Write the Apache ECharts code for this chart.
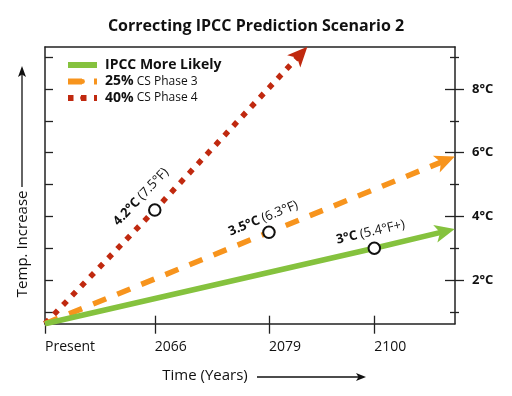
<!DOCTYPE html>
<html>
<head>
<meta charset="utf-8">
<script src="https://cdn.jsdelivr.net/npm/echarts@6/dist/echarts.min.js"></script>
<style>html,body{margin:0;padding:0;background:#fff;}#c{width:512px;height:396px;}</style>
</head>
<body>
<div id="c"></div>
<script>
// ---- data ----
const titleText = 'Correcting IPCC Prediction Scenario 2';
const categories = ['Present', '2066', '2079', '2100'];
const categoryPos = [0, 1, 2.04, 3];
const tempTicks = [1, 2, 3, 4, 5, 6, 7, 8, 9];
const tempLabelTicks = [2, 4, 6, 8];
const tempMinorTicks = [1, 3, 5, 7, 9];
const legendBold = ['IPCC More Likely', '25%', '40%'];
const legendRest = ['', 'CS Phase 3', 'CS Phase 4'];
const ipccLine = [[0, 0.63], [3, 3.0], [3.644, 3.53]];
const phase3Line = [[0, 0.63], [2.04, 3.5], [3.649, 5.76]];
const phase4Line = [[0, 0.63], [1, 4.2], [2.328, 9.10]];
const milestoneX = [1, 2.04, 3];
const milestoneTemp = [4.2, 3.5, 3.0];
const milestoneC = ['4.2°C', '3.5°C', '3°C'];
const milestoneF = ['(7.5°F)', '(6.3°F)', '(5.4°F+)'];
const xName = 'Time (Years)';
const yName = 'Temp. Increase';

// ---- styles ----
const FONT = 'Open Sans';
const colors = ['#85c23e', '#f7941d', '#c0290f'];
const dashTypes = ['solid', [14, 12], [5.5, 7.5]];
const axisColor = '#222';
const yMin = 0.63, yMax = 9.32, xMin = 0, xMax = 3.735;
const labelRot = [46.5, 22, 13];
const labelDist = [19, 15, 16.5];
const arrowW = 13.5, arrowH = 20;

const seriesNames = legendBold.map((b, i) => legendRest[i] ? b + ' ' + legendRest[i] : b);
const lines = [ipccLine, phase3Line, phase4Line];

const tickStyle = { color: axisColor, width: 1.3 };
const baseY = { type: 'value', min: yMin, max: yMax, splitLine: { show: false } };
const baseX = { type: 'value', min: xMin, max: xMax, splitLine: { show: false } };
function axLine(show) {
  return { show: show, onZero: false, lineStyle: { color: axisColor, width: 1.5 } };
}

const lineSeries = lines.map((d, i) => ({
  type: 'line',
  name: seriesNames[i],
  data: d,
  symbol: 'none',
  z: 5 - i,
  color: colors[i],
  lineStyle: { width: 5.5, type: dashTypes[i], color: colors[i], cap: 'butt' },
  animation: false
}));

const scatterSeries = {
  type: 'scatter',
  name: 'milestones',
  z: 10,
  symbol: 'circle',
  symbolSize: 11.5,
  itemStyle: { color: '#fff', borderColor: '#111', borderWidth: 2, opacity: 1 },
  animation: false,
  silent: true,
  label: {
    show: true,
    position: 'inside',
    align: 'center',
    verticalAlign: 'middle',
    formatter: p => '{b|' + milestoneC[p.dataIndex] + '} {n|' + milestoneF[p.dataIndex] + '}',
    rich: {
      b: { fontFamily: FONT, fontWeight: 'bold', fontSize: 13, color: '#111' },
      n: { fontFamily: FONT, fontSize: 13, color: '#111' }
    }
  },
  data: milestoneX.map((x, i) => ({
    value: [x, milestoneTemp[i]],
    label: { rotate: labelRot[i], offset: [0, -labelDist[i]] }
  }))
};

const option = {
  animation: false,
  textStyle: { fontFamily: FONT },
  title: {
    text: titleText,
    left: 'center',
    top: 13,
    textStyle: { fontFamily: FONT, fontWeight: 'bold', fontSize: 16, color: '#111' }
  },
  legend: {
    orient: 'vertical',
    left: 65,
    top: 58,
    padding: 0,
    itemGap: 2.5,
    itemWidth: 29,
    itemHeight: 6,
    selectedMode: false,
    data: seriesNames,
    lineStyle: { width: 6 },
    formatter: name => {
      const i = seriesNames.indexOf(name);
      return legendRest[i] ? '{b|' + legendBold[i] + '} {n|' + legendRest[i] + '}' : '{b|' + legendBold[i] + '}';
    },
    textStyle: {
      padding: [0, 0, 0, 3],
      rich: {
        b: { fontFamily: FONT, fontWeight: 'bold', fontSize: 14, color: '#111', lineHeight: 18 },
        n: { fontFamily: FONT, fontSize: 12, color: '#111', lineHeight: 18 }
      }
    }
  },
  grid: { left: 45, right: 57, top: 47, bottom: 72.3 },
  xAxis: [
    Object.assign({}, baseX, {
      position: 'bottom',
      axisLine: axLine(true),
      axisTick: { show: true, customValues: categoryPos, length: 10, inside: false, lineStyle: tickStyle },
      axisLabel: {
        show: true, customValues: categoryPos, align: 'left', margin: 16,
        fontFamily: FONT, fontSize: 14, color: '#111',
        formatter: v => categories[categoryPos.indexOf(v)]
      },
      name: xName,
      nameLocation: 'middle',
      nameGap: 45,
      nameTextStyle: { fontFamily: FONT, fontSize: 15, color: '#111', padding: [0, 90, 0, 0] }
    }),
    Object.assign({}, baseX, {
      position: 'bottom',
      axisLine: axLine(false),
      axisTick: { show: true, customValues: categoryPos.slice(1), length: 8, inside: true, lineStyle: tickStyle },
      axisLabel: { show: false }
    }),
    Object.assign({}, baseX, {
      position: 'top',
      axisLine: axLine(true),
      axisTick: { show: false },
      axisLabel: { show: false }
    })
  ],
  yAxis: [
    Object.assign({}, baseY, {
      position: 'left',
      axisLine: axLine(true),
      axisTick: { show: true, customValues: tempTicks, length: 8, inside: true, lineStyle: tickStyle },
      axisLabel: { show: false },
      name: yName,
      nameLocation: 'middle',
      nameRotate: 90,
      nameGap: 15,
      nameTextStyle: { fontFamily: FONT, fontSize: 15, color: '#111', padding: [0, 117, 0, 0] }
    }),
    Object.assign({}, baseY, {
      position: 'right',
      axisLine: axLine(true),
      axisTick: { show: true, customValues: tempLabelTicks, length: 9, inside: false, lineStyle: tickStyle },
      axisLabel: {
        show: true, customValues: tempLabelTicks, margin: 17, align: 'left',
        fontFamily: FONT, fontWeight: 'bold', fontSize: 13, color: '#111',
        formatter: v => v + '°C'
      }
    }),
    Object.assign({}, baseY, {
      position: 'right',
      axisLine: axLine(false),
      axisTick: { show: true, customValues: tempLabelTicks, length: 10, inside: true, lineStyle: tickStyle },
      axisLabel: { show: false }
    }),
    Object.assign({}, baseY, {
      position: 'right',
      axisLine: axLine(false),
      axisTick: { show: true, customValues: tempMinorTicks, length: 4, inside: false, lineStyle: tickStyle },
      axisLabel: { show: false }
    }),
    Object.assign({}, baseY, {
      position: 'right',
      axisLine: axLine(false),
      axisTick: { show: true, customValues: tempMinorTicks, length: 5, inside: true, lineStyle: tickStyle },
      axisLabel: { show: false }
    })
  ],
  graphic: [
    { type: 'line', shape: { x1: 22, y1: 187, x2: 22, y2: 72 }, style: { stroke: '#111', lineWidth: 1.3 } },
    { type: 'polygon', shape: { points: [[22, 66], [26, 77], [22, 74.5], [18, 77]] }, style: { fill: '#111' } },
    { type: 'line', shape: { x1: 257, y1: 377, x2: 361, y2: 377 }, style: { stroke: '#111', lineWidth: 1.3 } },
    { type: 'polygon', shape: { points: [[366, 377], [356, 373], [358.5, 377], [356, 381]] }, style: { fill: '#111' } }
  ],
  series: lineSeries.concat([scatterSeries])
};

const chart = echarts.init(document.getElementById('c'), null, { renderer: 'canvas' });
chart.setOption(option);

// arrowheads centred on the line ends, oriented along the last segment (via the chart's own scales)
const arrowData = lines.map((d, i) => {
  const a = chart.convertToPixel({ gridIndex: 0 }, d[d.length - 2]);
  const b = chart.convertToPixel({ gridIndex: 0 }, d[d.length - 1]);
  const rad = Math.atan2(a[1] - b[1], b[0] - a[0]);
  return {
    value: d[d.length - 1],
    symbolRotate: rad * 180 / Math.PI - 90,
    symbolOffset: [Math.cos(rad) * arrowH / 2, -Math.sin(rad) * arrowH / 2],
    itemStyle: { color: colors[i] }
  };
});
chart.setOption({
  series: lineSeries.concat([scatterSeries, {
    type: 'scatter',
    name: 'arrows',
    z: 8,
    symbol: 'arrow',
    symbolSize: [arrowW, arrowH],
    silent: true,
    animation: false,
    itemStyle: { opacity: 1 },
    data: arrowData
  }])
});
</script>
</body>
</html>
